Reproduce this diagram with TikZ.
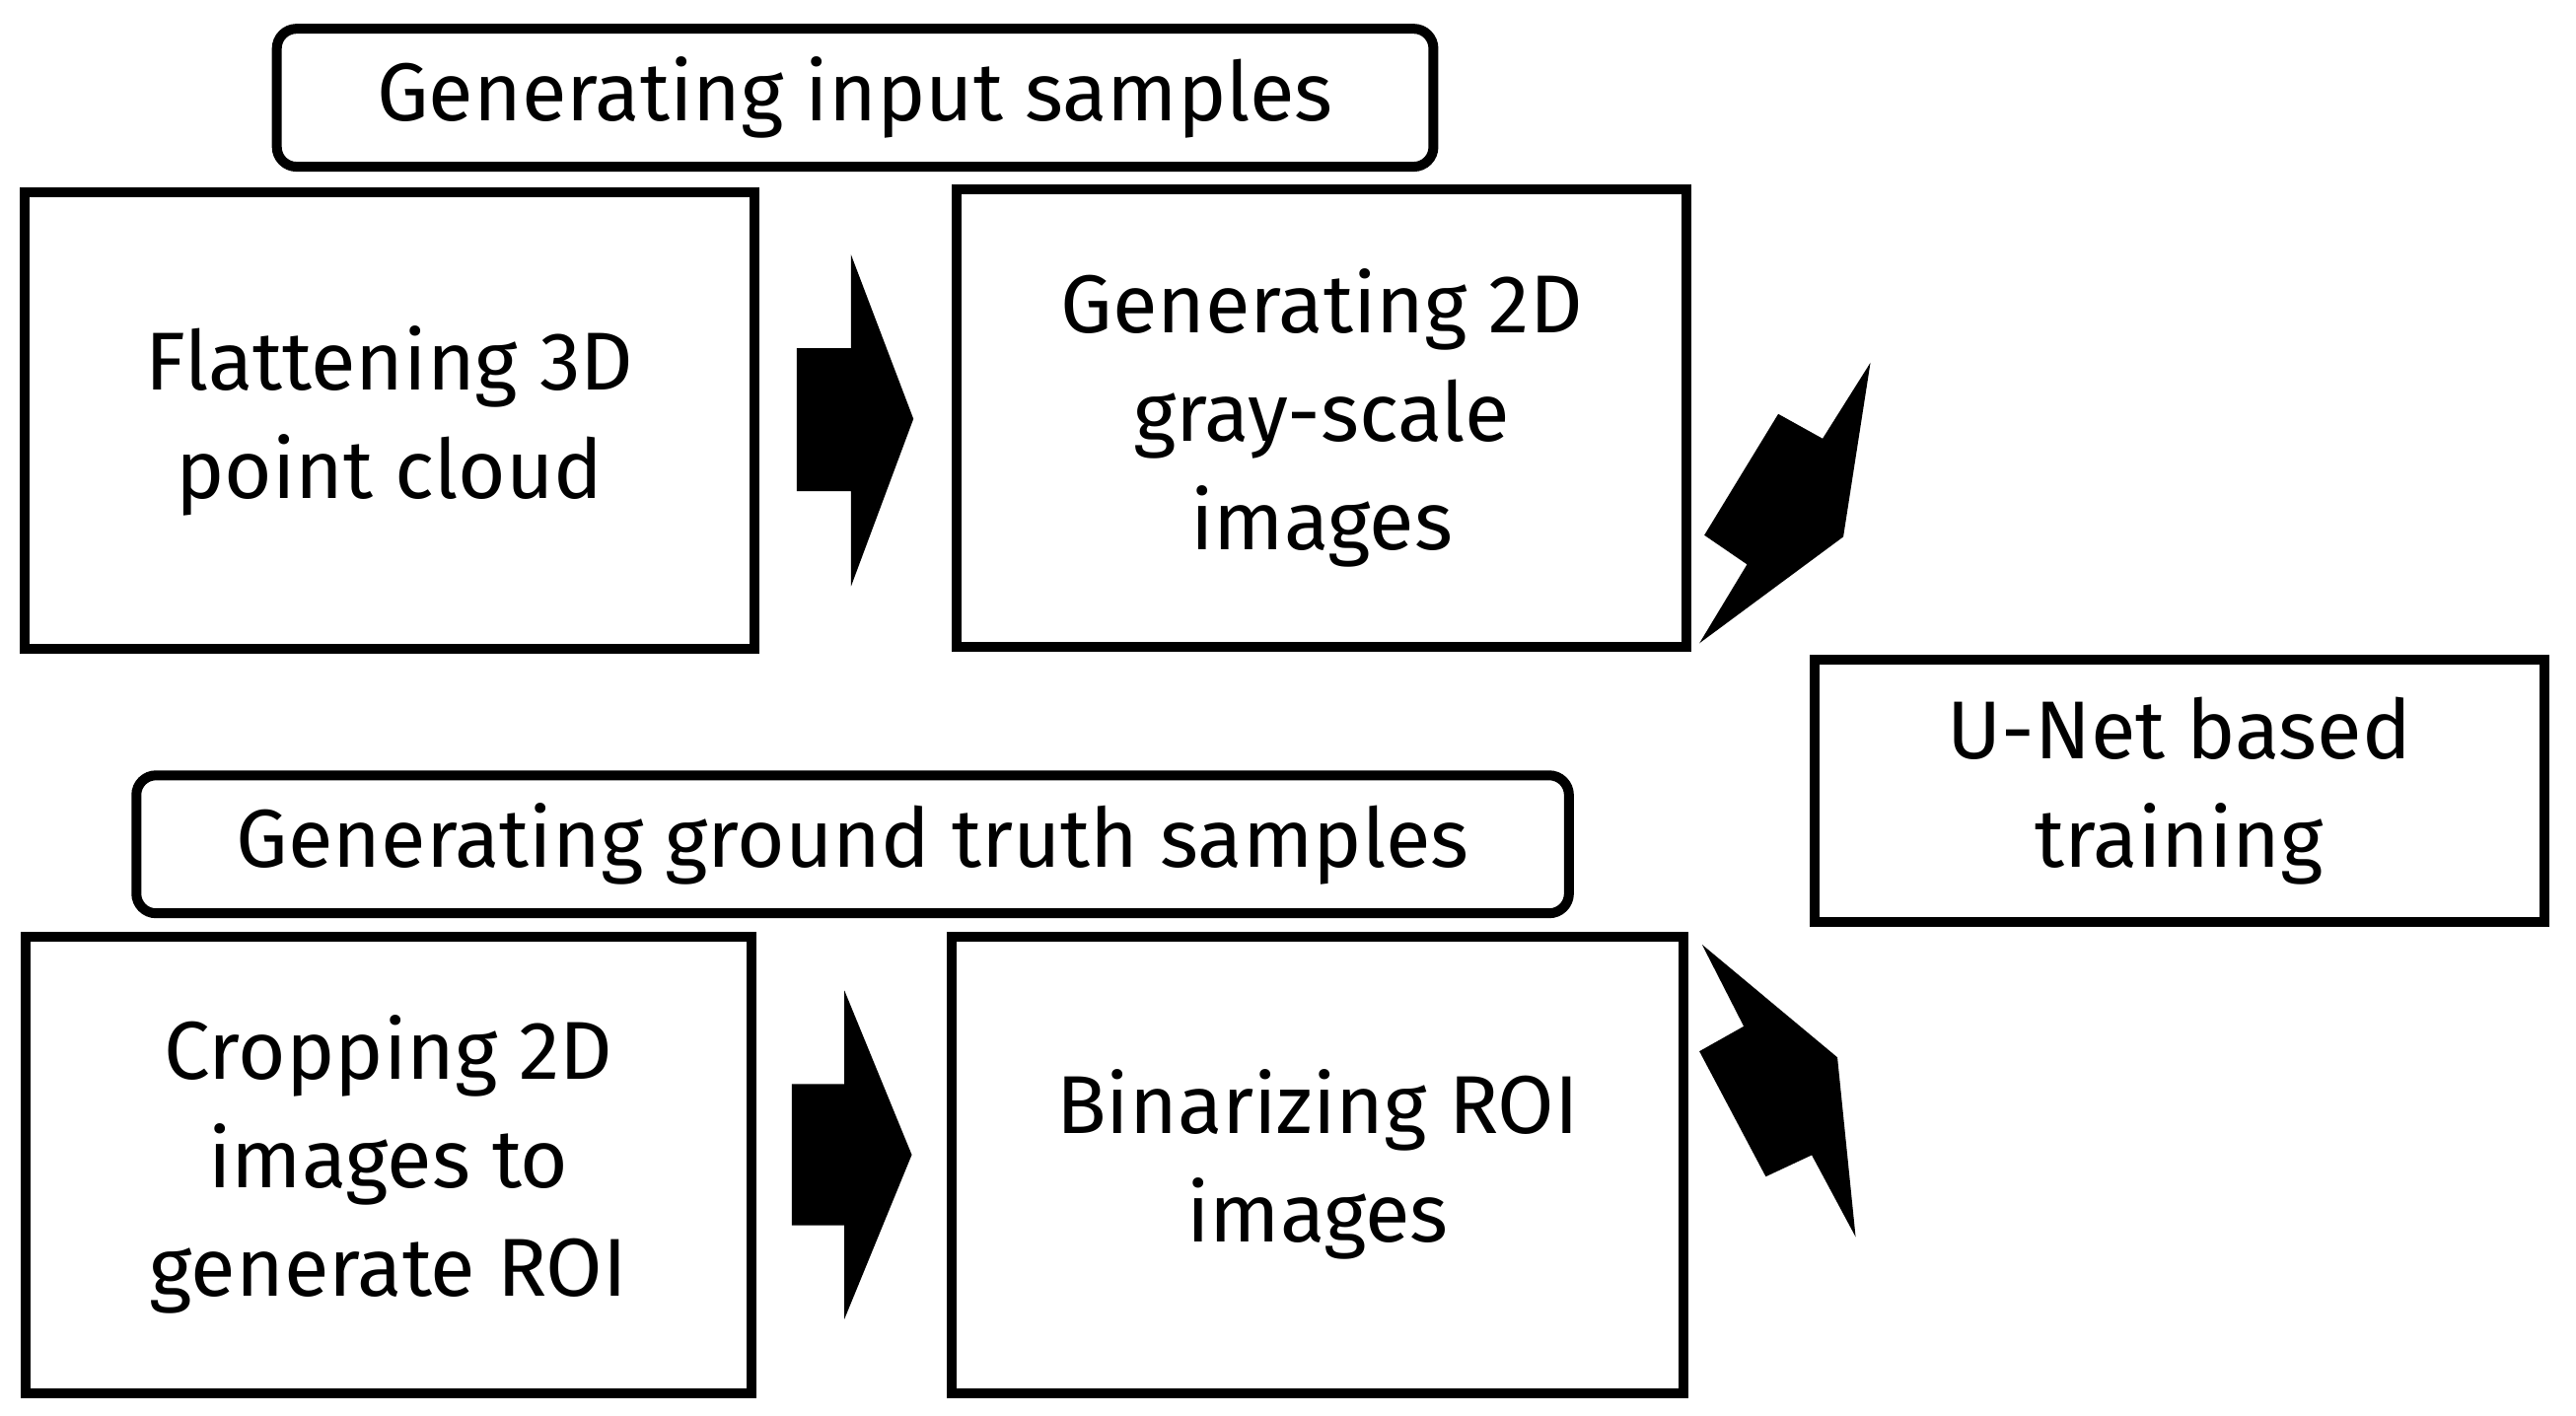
\documentclass[tikz,border=0pt]{standalone}
\usepackage{fontspec}
\setmainfont{Fira Sans}
\begin{document}
\begin{tikzpicture}[x=0.5pt,y=-0.5pt,
  box/.style={draw,line width=3pt,align=center,font=\fontsize{25}{33}\selectfont},
  ttl/.style={box,rounded corners=6pt}]
\useasboundingbox (0,0) rectangle (1568,862);
\node[ttl,minimum width=352pt,minimum height=42pt] (t1) at (520.5,59.5) {\raisebox{-2.5pt}{Generating input samples}};
\node[ttl,minimum width=436pt,minimum height=42pt] (t2) at (519,514) {\raisebox{-2.5pt}{Generating ground truth samples}};
\node[box,minimum width=222pt,minimum height=139pt] (b1) at (237,256) {Flattening 3D\\point cloud};
\node[box,minimum width=222pt,minimum height=139pt] (b2) at (804.5,254.5) {Generating 2D\\gray-scale\\images};
\node[box,minimum width=221pt,minimum height=139pt] (b3) at (236.5,709) {Cropping 2D\\images to\\generate ROI};
\node[box,minimum width=223pt,minimum height=139pt] (b4) at (802,709) {Binarizing ROI\\images};
\node[box,minimum width=222pt,minimum height=80pt] (b5) at (1326.5,481.5) {U-Net based\\training};
\fill (485,212)--(518,212)--(518,155)--(556,255)--(518,357)--(518,299)--(485,299)--cycle;
\fill (482,660)--(514,660)--(514,603)--(555,703)--(514,803)--(514,746)--(482,746)--cycle;
\fill (1138.5,220.8)--(1109.4,267)--(1082.4,252)--(1037.4,325.8)--(1063.4,343.6)--(1034.4,391.6)--(1122,326.8)--cycle;
\fill (1036,575)--(1061.4,624.8)--(1034.4,640)--(1074.8,716.3)--(1102.8,703.2)--(1129.5,753)--(1118.4,643.7)--cycle;
\end{tikzpicture}
\end{document}
